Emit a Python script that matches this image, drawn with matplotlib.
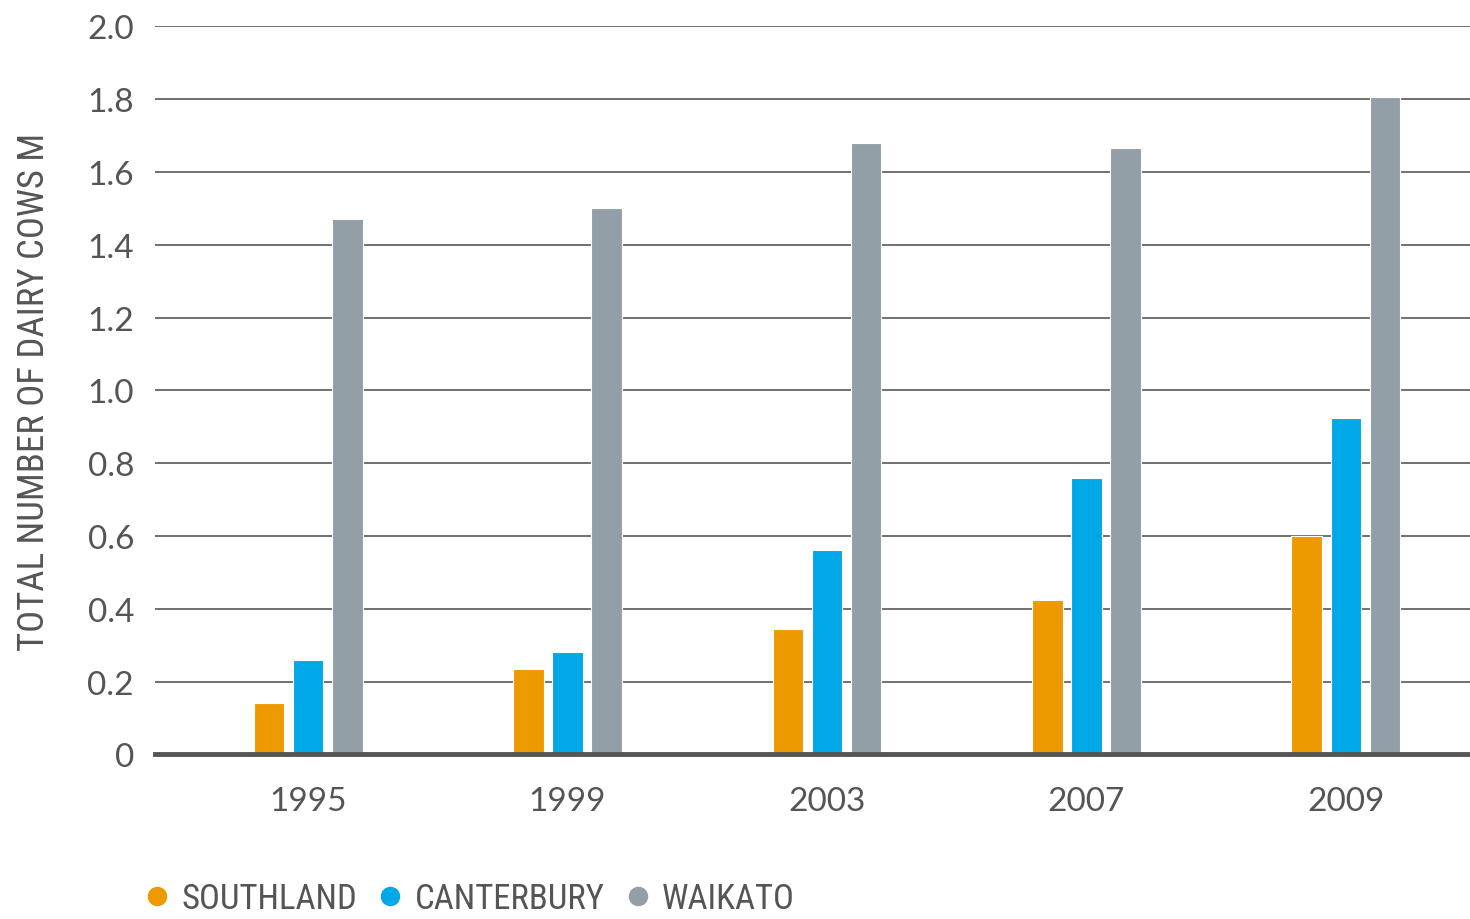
import numpy as np
import matplotlib.pyplot as plt
from matplotlib.lines import Line2D

# data (millions of dairy cows)
years = ['1995', '1999', '2003', '2007', '2009']
regions = ['SOUTHLAND', 'CANTERBURY', 'WAIKATO']
southland = [0.14, 0.235, 0.345, 0.425, 0.60]
canterbury = [0.26, 0.28, 0.56, 0.76, 0.925]
waikato = [1.47, 1.50, 1.68, 1.665, 1.805]
colors = ['#EC9A00', '#00A8E8', '#939FA7']
yticks = [0, 0.2, 0.4, 0.6, 0.8, 1.0, 1.2, 1.4, 1.6, 1.8, 2.0]
ytick_labels = ['0', '0.2', '0.4', '0.6', '0.8', '1.0', '1.2', '1.4', '1.6', '1.8', '2.0']

text_col = '#555555'
narrow = ['Roboto Condensed', 'Open Sans Condensed', 'Liberation Sans Narrow', 'DejaVu Sans']
plain = ['Lato', 'DejaVu Sans']

fig = plt.figure(figsize=(14.7, 9.2), dpi=100)
ax = fig.add_axes([0.1054, 0.179, 0.8946, 0.7913])

x = np.arange(len(years))
width = 0.118
offset = 0.151
for i, (vals, col) in enumerate(zip([southland, canterbury, waikato], colors)):
    ax.bar(x + (i - 1) * offset, vals, width, color=col, edgecolor='white',
           linewidth=0.8, zorder=3)

ax.set_xlim(-0.59, 4.478)
ax.set_ylim(0, 2.0)
ax.set_yticks(yticks)
ax.set_yticklabels(ytick_labels, family=plain, fontsize=24, color=text_col)
ax.set_xticks(x)
ax.set_xticklabels(years, family=plain, fontsize=24, color=text_col)
ax.tick_params(axis='y', length=0, pad=15)
ax.tick_params(axis='x', length=0, pad=23)

ax.grid(axis='y', color='#707070', linewidth=1.4, zorder=0)
ax.set_axisbelow(True)
for s in ['top', 'right', 'left']:
    ax.spines[s].set_visible(False)
ax.spines['bottom'].set_color('#555555')
ax.spines['bottom'].set_linewidth(3.5)
ax.spines['bottom'].set_zorder(4)

ax.set_ylabel('TOTAL NUMBER OF DAIRY COWS M', family=narrow, fontsize=26.5,
              fontstretch='condensed', color=text_col)
ax.yaxis.set_label_coords(-0.078, 0.499)

handles = [Line2D([], [], marker='o', linestyle='none', markersize=13,
                  markerfacecolor=c, markeredgecolor=c) for c in colors]
fig.legend(handles, regions, loc='lower left', bbox_to_anchor=(0.0952, 0.004),
           ncol=3, frameon=False, borderaxespad=0, borderpad=0,
           handlelength=1.0, handletextpad=0.2, columnspacing=0.45,
           prop={'family': narrow, 'size': 25, 'stretch': 'condensed'},
           labelcolor=text_col)

fig.savefig('out.png', dpi=100)
